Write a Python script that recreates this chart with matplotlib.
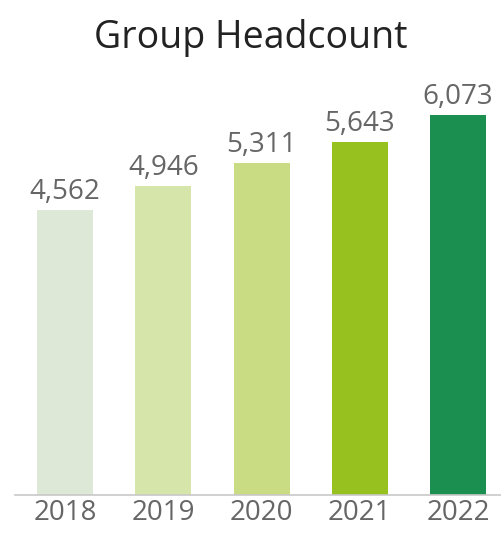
import matplotlib.pyplot as plt

# data
years = ["2018", "2019", "2020", "2021", "2022"]
headcount = [4562, 4946, 5311, 5643, 6073]
bar_colors = ["#dde9d6", "#d6e5a9", "#c9dc84", "#97c11f", "#1b8f4f"]

plt.rcParams['font.family'] = ['Open Sans', 'DejaVu Sans']

fig = plt.figure(figsize=(5.01, 5.39), dpi=100)
ax = fig.add_axes([15 / 501, 44 / 539, 486 / 501, 437.5 / 539])

x = range(len(years))
bars = ax.bar(x, headcount, width=0.57, color=bar_colors)

for xi, v in zip(x, headcount):
    ax.annotate(f"{v:,}", (xi, v), xytext=(0, 3), textcoords="offset points",
                ha="center", va="bottom", fontsize=20, color="#666666")

ax.set_xlim(-0.509, 4.437)
ax.set_ylim(0, 7000)
ax.set_xticks(list(x))
ax.set_xticklabels(years, fontsize=20, color="#666666")
ax.tick_params(axis="x", length=0, pad=3)
ax.set_yticks([])
for s in ["top", "right", "left"]:
    ax.spines[s].set_visible(False)
ax.spines["bottom"].set_color("#c8c8c8")
ax.spines["bottom"].set_linewidth(1.2)

fig.text(0.5, 1 - 38 / 539, "Group Headcount", ha="center", va="center",
         fontsize=27, color="#222222")

fig.savefig("out.png", dpi=100)
